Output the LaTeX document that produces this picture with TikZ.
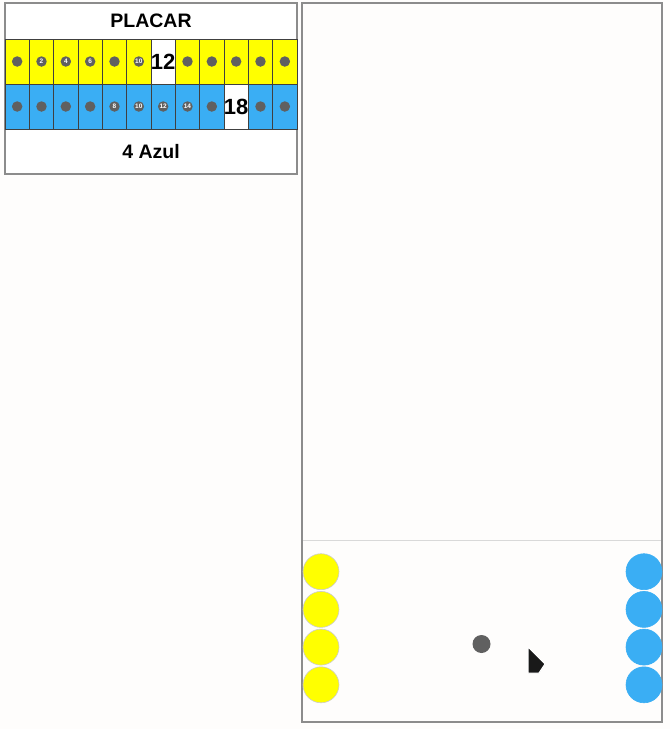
\documentclass[tikz,border=0pt]{standalone}
\usepackage{fontspec}
\setmainfont{Liberation Sans}
\definecolor{placaryellow}{HTML}{FFFF00}
\definecolor{placarblue}{HTML}{3AAEF4}
\definecolor{framegray}{HTML}{8C8C8C}
\definecolor{dotgray}{HTML}{606060}
\definecolor{paper}{HTML}{FEFDFC}
\begin{document}
\begin{tikzpicture}[x=1pt,y=-1pt,
	cell/.style={draw=black!75, line width=0.8pt, minimum width=24.33pt, minimum height=45pt, inner sep=0pt},
	marker/.style={circle, fill=dotgray, minimum size=10.5pt, inner sep=0pt, text=white, font=\bfseries\fontsize{6.5}{6.5}\selectfont},
	big/.style={font=\bfseries\fontsize{22}{22}\selectfont},
	piece/.style={circle, draw=black!20, line width=0.6pt, minimum size=36pt, inner sep=0pt}]
	
	\useasboundingbox (0,0) rectangle (670,729);
	\fill[paper] (0,0) rectangle (670,729);
	
	% placar
	\begin{scope}
		\draw[framegray, line width=1.6pt, fill=white] (5,3) rectangle (297,174);
		\node[font=\bfseries\fontsize{19.5}{19.5}\selectfont] (titulo) at (151,21) {PLACAR};
		
		\foreach \i in {0,...,11} {
			\node[cell, fill=placaryellow] (y\i) at ({5+24.333*(\i+0.5)},61.5) {};
			\node[cell, fill=placarblue] (b\i) at ({5+24.333*(\i+0.5)},106.5) {};
		}
		\node[cell, fill=white, big] (y6) at (y6) {12};
		\node[cell, fill=white, big] (b9) at (b9) {18};
		
		\foreach \i/\n in {0/{},1/2,2/4,3/6,4/{},5/10,7/{},8/{},9/{},10/{},11/{}}
			\node[marker] (py\i) at (y\i) {\n};
		\foreach \i/\n in {0/{},1/{},2/{},3/{},4/8,5/10,6/12,7/14,8/{},10/{},11/{}}
			\node[marker] (pb\i) at (b\i) {\n};
		
		\node[font=\bfseries\fontsize{19.5}{19.5}\selectfont] (placar) at (151,152) {4 Azul};
	\end{scope}
	
	% campo
	\begin{scope}
		\draw[framegray, line width=1.6pt, fill=paper] (302,3) rectangle (662,722);
		\draw[black!15, line width=1pt] (303,540) -- (661,540);
		
		\foreach \j in {0,...,3} {
			\node[piece, fill=placaryellow] (amarelo\j) at (321,{571.7+37.7*\j}) {};
			\node[piece, fill=placarblue, draw=placarblue] (azul\j) at (644,{571.7+37.7*\j}) {};
		}
		\node[circle, fill=dotgray, minimum size=18pt, inner sep=0pt] (bola) at (481.5,644) {};
		
		\filldraw[black!90, draw=white, line width=1pt, line join=round] (528,647) -- (545,664) -- (539,673) -- (528,673) -- cycle;
	\end{scope}
	
\end{tikzpicture}
\end{document}
